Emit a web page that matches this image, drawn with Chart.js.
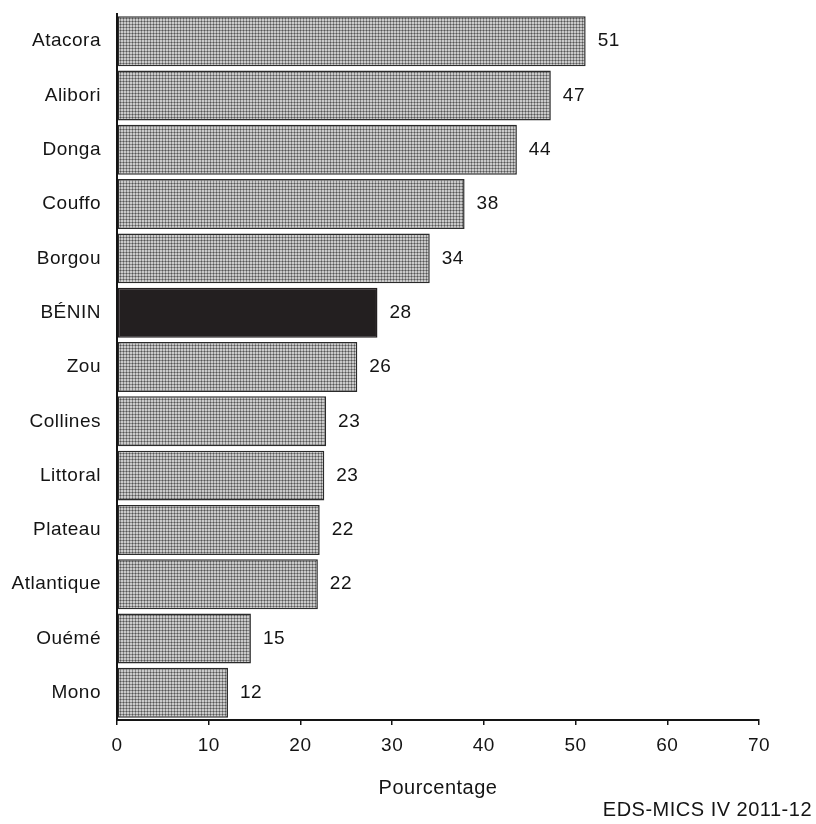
<!DOCTYPE html>
<html lang="fr">
<head>
  <meta charset="UTF-8">
  <title>Pourcentage par département</title>
  <script src="https://cdn.jsdelivr.net/npm/chart.js"></script>
  <style>
    html, body { margin: 0; padding: 0; background: #fff; }
    #wrap { width: 816px; height: 824px; position: relative; }
  </style>
</head>
<body>
  <div id="wrap"><canvas id="chart"></canvas></div>
  <script>
    // departments, top to bottom
    const regions = ['Atacora', 'Alibori', 'Donga', 'Couffo', 'Borgou', 'BÉNIN', 'Zou',
                     'Collines', 'Littoral', 'Plateau', 'Atlantique', 'Ouémé', 'Mono'];
    // bar lengths (percent)
    const values = [51.1, 47.3, 43.6, 37.9, 34.1, 28.4, 26.2, 22.8, 22.6, 22.1, 21.9, 14.6, 12.1];
    const xTicks = [0, 10, 20, 30, 40, 50, 60, 70];
    const source = 'EDS-MICS IV 2011-12';

    const FONT = '"Liberation Sans", Arial, sans-serif';
    const INK = '#141414';

    // dotted grey fill like the print version
    function dotPattern() {
      const c = document.createElement('canvas');
      c.width = 3; c.height = 3;
      const g = c.getContext('2d');
      g.fillStyle = '#8a8a8a'; g.fillRect(0, 0, 3, 3);
      g.fillStyle = '#cacaca'; g.fillRect(1, 1, 2, 2);
      g.fillStyle = '#555555'; g.fillRect(0, 0, 1, 1);
      return g.createPattern(c, 'repeat');
    }

    const ctx = document.getElementById('chart').getContext('2d');
    const pat = dotPattern();
    const fills = regions.map(r => r === 'BÉNIN' ? '#231f20' : pat);
    const borders = regions.map(r => r === 'BÉNIN' ? '#231f20' : '#2a2a2a');

    // the print text is slightly spread out
    const spacing = {
      id: 'spacing',
      beforeDraw(chart) { chart.ctx.letterSpacing = '0.5px'; }
    };

    // rounded value right of each bar, and the source line bottom right
    const valueLabels = {
      id: 'valueLabels',
      afterDatasetsDraw(chart) {
        const c = chart.ctx;
        const meta = chart.getDatasetMeta(0);
        c.save();
        c.font = '19px ' + FONT;
        c.fillStyle = INK;
        c.textAlign = 'left';
        c.textBaseline = 'middle';
        meta.data.forEach((bar, i) => {
          c.fillText(String(Math.round(values[i])), bar.x + 12, bar.y);
        });
        c.font = '20px ' + FONT;
        c.textAlign = 'right';
        c.fillText(source, chart.width - 4, 810);
        c.restore();
      }
    };

    new Chart(ctx, {
      type: 'bar',
      data: {
        labels: regions,
        datasets: [{
          data: values,
          backgroundColor: fills,
          borderColor: borders,
          borderWidth: 1.5,
          borderSkipped: false,
          categoryPercentage: 1,
          barPercentage: 0.92
        }]
      },
      options: {
        indexAxis: 'y',
        responsive: true,
        maintainAspectRatio: false,
        animation: false,
        layout: { padding: { top: 14, right: 57, left: 0, bottom: 24 } },
        plugins: {
          legend: { display: false },
          tooltip: { enabled: false }
        },
        scales: {
          x: {
            min: 0,
            max: 70,
            afterBuildTicks: s => { s.ticks = xTicks.map(v => ({ value: v })); },
            afterFit: s => { s.height = 80; },
            grid: { drawOnChartArea: false, drawTicks: true, tickLength: 5, color: INK, lineWidth: 1.5 },
            border: { display: true, color: INK, width: 2 },
            ticks: { color: INK, padding: 9, font: { family: FONT, size: 19 } },
            title: {
              display: true,
              text: 'Pourcentage',
              color: INK,
              font: { family: FONT, size: 20 },
              padding: { top: 0, bottom: 0 }
            }
          },
          y: {
            afterFit: s => { s.width = 117; s.paddingTop = 0; s.paddingBottom = 0; },
            grid: { drawOnChartArea: false, drawTicks: false },
            border: { display: true, color: INK, width: 2 },
            ticks: { color: INK, padding: 16, font: { family: FONT, size: 19 } }
          }
        }
      },
      plugins: [spacing, valueLabels]
    });
  </script>
</body>
</html>
